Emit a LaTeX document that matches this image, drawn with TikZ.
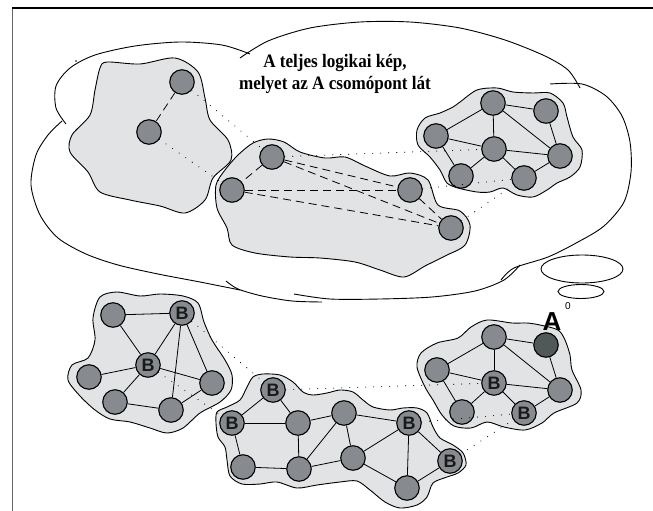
\documentclass[tikz,border=0pt]{standalone}
\usepackage{fontspec}
\setmainfont{Liberation Serif}
\setsansfont{Liberation Sans}

\definecolor{blobgray}{RGB}{226,227,229}
\definecolor{hostgray}{RGB}{135,139,144}
\definecolor{agray}{RGB}{80,88,88}
\definecolor{framegray}{RGB}{105,105,105}

\tikzset{
  cloudline/.style={line width=0.9pt},
  blob/.style={draw=black, line width=0.9pt, fill=blobgray},
  host/.style={circle, draw=black, line width=1.1pt, fill=hostgray,
    minimum size=24.5pt, inner sep=0pt,
    font=\sffamily\bfseries\fontsize{18}{18}\selectfont, text=black!90},
  link/.style={line width=0.8pt},
  vlink/.style={line width=0.8pt, dash pattern=on 8pt off 5pt},
  tunnel/.style={line width=1.1pt, line cap=round, dash pattern=on 0pt off 8pt},
}

\begin{document}
\begin{tikzpicture}[x=1pt, y=-1pt]
    \useasboundingbox (0,0) rectangle (653,511);

    % Frame
    \draw[framegray, line width=1.6pt] (12.5,8) -- (12.5,511);
    \draw[line width=1.2pt] (12,8) -- (653,8);

    % Thought cloud
    \draw[cloudline] plot[smooth] coordinates {(66,124) (56,108) (56,86) (70,68) (95,55) (135,46) (180,42) (222,45) (250,54)};
    \draw[cloudline] plot[smooth] coordinates {(240,58) (268,41) (310,28) (360,22) (410,22) (460,28) (505,40) (545,56) (568,70) (580,88)};
    \draw[cloudline] plot[smooth] coordinates {(550,84) (582,84) (606,96) (622,116) (630,142) (631,172) (624,202) (604,226) (578,242) (548,257) (514,268) (501,280)};
    \draw[cloudline] plot[smooth] coordinates {(520,265) (504,280) (475,291) (432,297) (380,299) (330,299) (294,294)};
    \draw[cloudline] plot[smooth] coordinates {(322,302) (292,301) (262,296) (238,289) (226,281)};
    \draw[cloudline] plot[smooth] coordinates {(240,290) (200,282) (158,274) (118,265) (86,254) (58,238) (40,215) (31,185) (36,155) (48,135) (62,121)};
    \draw[cloudline] (582,269) ellipse [x radius=41pt, y radius=14pt];
    \draw[cloudline] (581,291.5) ellipse [x radius=23pt, y radius=7pt];
    \node[font=\sffamily\fontsize{10}{10}\selectfont, inner sep=0pt] (bubble0) at (568,306) {0};
    \fill (76,61) circle (0.8pt);

    % Title
    \node[font=\bfseries\fontsize{19}{22}\selectfont, align=center, inner sep=0pt, xscale=0.9] (title) at (335,74)
        {A teljes logikai kép,\\ melyet az A csomópont lát};

    % Areas in the cloud
    \draw[blob] plot[smooth cycle] coordinates {(107,62) (140,64) (175,58) (198,72) (205,98) (210,120) (228,140) (231,160) (213,178) (205,200) (185,213) (160,206) (130,200) (100,192) (88,172) (70,152) (72,135) (90,115) (95,90) (100,68)};
    \draw[blob] plot[smooth cycle] coordinates {(253,143) (268,139) (284,142) (300,152) (325,158) (345,157) (365,166) (390,176) (410,173) (428,180) (438,205) (460,211) (470,225) (465,245) (445,256) (425,266) (404,277) (380,270) (355,262) (320,258) (290,257) (255,253) (232,245) (227,228) (217,208) (216,185) (225,170) (238,155)};
    \draw[blob] plot[smooth cycle] coordinates {(460,102) (477,90) (497,88) (513,92) (533,93) (550,93) (563,103) (567,117) (573,137) (582,150) (580,167) (570,177) (557,183) (547,190) (533,197) (517,195) (503,188) (490,192) (477,192) (458,188) (447,183) (440,170) (430,157) (418,145) (417,130) (425,118) (440,113) (453,107)};

    % Areas below
    \draw[blob] plot[smooth cycle] coordinates {(100,297) (117,292) (140,296) (160,294) (183,296) (198,303) (204,322) (212,340) (225,360) (232,375) (231,390) (220,402) (200,413) (183,428) (167,433) (150,428) (130,422) (110,419) (95,410) (80,396) (68,380) (72,365) (88,358) (95,340) (93,318)};
    \draw[blob] plot[smooth cycle] coordinates {(253,377) (263,374) (280,375) (293,382) (303,392) (313,395) (327,393) (340,390) (353,392) (363,400) (373,407) (390,410) (403,408) (417,408) (427,413) (433,427) (440,438) (453,445) (463,453) (466,465) (458,473) (447,477) (433,483) (427,497) (417,505) (400,508) (385,502) (370,490) (357,481) (340,482) (317,485) (297,488) (277,482) (260,484) (242,484) (230,476) (227,460) (225,447) (218,437) (216,423) (217,412) (227,407) (240,400) (247,387)};
    \draw[blob] plot[smooth cycle] coordinates {(417,367) (421,353) (437,343) (458,338) (471,327) (487,320) (512,323) (527,323) (540,325) (558,330) (565,340) (570,355) (572,370) (581,390) (577,403) (554,413) (542,423) (525,430) (504,427) (487,422) (471,428) (454,426) (442,415) (433,400) (425,387)};

    % Hosts
    \foreach \n/\x/\y in {L1/182/82, L2/149/132,
        M1/272/157, M2/232/190, M3/410/190, M4/451/228,
        R1/493/103, R2/546/111, R3/436/136, R4/494/149, R5/560/156, R6/461/176, R7/524/178,
        P1/113/315, P4/89/377, P5/212/383, P6/115/402, P7/171/410,
        Q3/298/423, Q4/344/413, Q6/243/467, Q7/299/469, Q8/353/458, Q10/407/488,
        S1/494/337, S3/437/370, S5/560/390, S6/462/412} {
        \node[host] (\n) at (\x,\y) {};
    }
    % Border hosts
    \foreach \n/\x/\y in {P2/182/313, P3/148/365, Q1/273/390, Q2/232/423, Q5/409/423,
        Q9/450/461, S4/494/383, S7/524/413} {
        \node[host] (\n) at (\x,\y) {B};
    }
    \node[host, fill=agray] (S2) at (546,345) {};
    \node[font=\sffamily\bfseries\fontsize{26}{26}\selectfont, inner sep=0pt] (Alabel) at (552,322) {A};

    % Links
    \foreach \a/\b in {R1/R3, R1/R4, R1/R2, R1/R5, R2/R5, R3/R4, R3/R6, R4/R6, R4/R5, R4/R7, R7/R5,
        P1/P2, P1/P3, P2/P3, P2/P7, P2/P5, P3/P4, P3/P5, P3/P6, P6/P7, P7/P5,
        Q1/Q2, Q1/Q3, Q2/Q3, Q2/Q6, Q3/Q7, Q3/Q4, Q4/Q7, Q4/Q8, Q4/Q5, Q6/Q7, Q7/Q8,
        Q8/Q5, Q8/Q10, Q5/Q10, Q5/Q9, Q9/Q10,
        S1/S2, S1/S3, S1/S4, S1/S5, S2/S5, S3/S4, S3/S6, S4/S6, S4/S5, S4/S7, S7/S5} {
        \draw[link] (\a) -- (\b);
    }
    \foreach \a/\b in {L1/L2, M1/M2, M1/M3, M1/M4, M2/M3, M2/M4, M3/M4} {
        \draw[vlink] (\a) -- (\b);
    }
    \foreach \a/\b in {L1/M1, L2/M2, M1/R4, M3/R7, M4/R7, P2/Q1, P3/Q2, Q1/S4, Q5/S7, Q9/S7} {
        \draw[tunnel] (\a) -- (\b);
    }
\end{tikzpicture}
\end{document}
